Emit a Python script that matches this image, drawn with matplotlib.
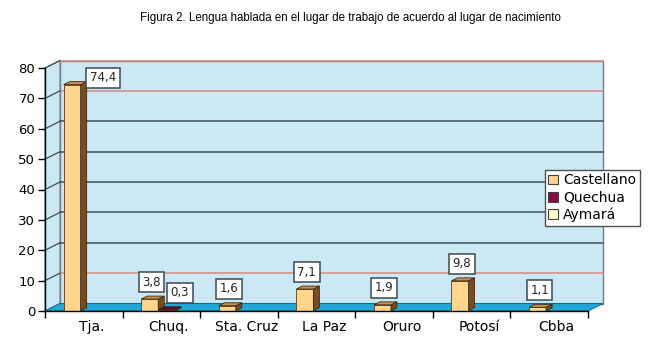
import matplotlib
matplotlib.use("Agg")
import matplotlib.pyplot as plt
from matplotlib.patches import Polygon, Patch
from matplotlib.transforms import IdentityTransform
import numpy as np

# ---- data ----
title = "Figura 2. Lengua hablada en el lugar de trabajo de acuerdo al lugar de nacimiento"
categories = ["Tja.", "Chuq.", "Sta. Cruz", "La Paz", "Oruro", "Potosí", "Cbba"]
series_names = ["Castellano", "Quechua", "Aymará"]
castellano = [74.4, 3.8, 1.6, 7.1, 1.9, 9.8, 1.1]
quechua = [None, 0.3, None, None, None, None, None]
aymara = [None, None, None, None, None, None, None]
yticks = [0, 10, 20, 30, 40, 50, 60, 70, 80]

# ---- style ----
front_cols = ["#ffd68c", "#8c0a46", "#ffffc8"]
side_cols = ["#7a4a22", "#4a0020", "#9a9a70"]
top_cols = ["#c99050", "#6a0830", "#d8d8a0"]
offsets = [-0.16, 0.06, 0.28]
bw = 0.22
WALL = "#cbe8f4"
FLOOR = "#22a8d6"
DX, DY = 15.0, 7.5        # wall depth in pixels
BZ0, BZ1 = 0.05, 0.45     # bar depth (fraction of wall depth)
FONT = "DejaVu Sans"

W, H = 664, 349
fig = plt.figure(figsize=(W / 100, H / 100), dpi=100)
fig.patch.set_facecolor("white")
ax = fig.add_axes([45 / W, 38 / H, 543 / W, 243 / H])
ax.set_xlim(-0.5, len(categories) - 0.5)
ax.set_ylim(0, 80)
ax.patch.set_visible(False)
for s in ["top", "right"]:
    ax.spines[s].set_visible(False)
for s in ["left", "bottom"]:
    ax.spines[s].set_color("black")
    ax.spines[s].set_linewidth(1.0)
    ax.spines[s].set_zorder(10)

xmin, xmax = ax.get_xlim()
ID = IdentityTransform()


def P(x, y, z):
    X, Y = ax.transData.transform((x, y))
    return (X + DX * z, Y + DY * z)


def poly(pts, fc, ec="none", lw=0.8, z=1):
    ax.add_patch(Polygon(pts, closed=True, facecolor=fc, edgecolor=ec,
                         linewidth=lw, transform=ID, clip_on=False, zorder=z))


def line(p, q, c, lw=1.0, z=2):
    ax.add_line(plt.Line2D([p[0], q[0]], [p[1], q[1]], color=c, lw=lw,
                           transform=ID, clip_on=False, zorder=z))


# back wall and side wall
poly([P(xmin, 0, 1), P(xmax, 0, 1), P(xmax, 80, 1), P(xmin, 80, 1)], WALL, "#6e7e86", 1.0, 1)
poly([P(xmin, 0, 0), P(xmin, 0, 1), P(xmin, 80, 1), P(xmin, 80, 0)], WALL, "#6e7e86", 0.8, 1)

# gridlines
for v in yticks[1:]:
    c = "#d88a7a" if v in (10, 70, 80) else "#3e4e5a"
    line(P(xmin, v, 1), P(xmax, v, 1), c, 1.1, 2)
    line(P(xmin, v, 0), P(xmin, v, 1), "#3e4e5a", 0.9, 2)

# floor
poly([P(xmin, 0, 0), P(xmax, 0, 0), P(xmax, 0, 1), P(xmin, 0, 1)], FLOOR, "#1a6a8a", 0.8, 3)

# bars
all_series = [castellano, quechua, aymara]
for si, vals in enumerate(all_series):
    for j, v in enumerate(vals):
        if v is None:
            continue
        x0 = j + offsets[si] - bw / 2
        x1 = x0 + bw
        zb = 5 + si * 0.1
        poly([P(x0, 0, BZ0), P(x1, 0, BZ0), P(x1, v, BZ0), P(x0, v, BZ0)],
             front_cols[si], "#5a3a1a", 0.6, zb)
        poly([P(x1, 0, BZ0), P(x1, 0, BZ1), P(x1, v, BZ1), P(x1, v, BZ0)],
             side_cols[si], "#3a2a10", 0.6, zb)
        poly([P(x0, v, BZ0), P(x1, v, BZ0), P(x1, v, BZ1), P(x0, v, BZ1)],
             top_cols[si], "#3a2a10", 0.6, zb)
        # data label
        cx, ty = P((x0 + x1) / 2, v, BZ0)
        if v > 70:
            ox, oy = 31, 7
        else:
            ox, oy = 2 + 11 * si, 17
        ax.text(cx + ox, ty + oy, f"{v:.1f}".replace(".", ","), transform=ID,
                ha="center", va="center", fontsize=8.5, family=FONT,
                color="#222222", zorder=20,
                bbox=dict(boxstyle="square,pad=0.3", fc="white", ec="#3a4a50", lw=1.1))

# axes ticks
ax.set_yticks(yticks)
ax.set_yticklabels([str(t) for t in yticks], fontsize=9.5, family=FONT)
ax.tick_params(axis="y", length=5, width=1, pad=2, colors="black")
bounds = np.arange(len(categories) + 1) - 0.5
ax.set_xticks(bounds)
ax.set_xticklabels([])
ax.tick_params(axis="x", length=5, width=1, direction="out")

for j, c in enumerate(categories):
    X, Y = P(j, 0, 0.5)
    Y0 = ax.transData.transform((j, 0))[1]
    ax.text(X, Y0 - 16, c, transform=ID, ha="center", va="center",
            fontsize=10, family=FONT, color="black", clip_on=False)

# legend
handles = [Patch(facecolor=front_cols[i], edgecolor="#404040", linewidth=0.8)
           for i in range(3)]
leg = fig.legend(handles, series_names, loc="upper left",
                 bbox_to_anchor=(545 / W, 1 - 170 / H), bbox_transform=fig.transFigure,
                 fancybox=False, edgecolor="#505050", framealpha=1,
                 prop={"family": FONT, "size": 10}, handlelength=0.7,
                 handleheight=0.7, handletextpad=0.35, borderpad=0.25,
                 labelspacing=0.22, borderaxespad=0)
leg.get_frame().set_linewidth(1.0)
leg.set_zorder(30)

# title (fit to the width it has in the reference)
t = fig.text(350 / W, 1 - 18 / H, title, ha="center", va="center", fontsize=9.5,
             family="Liberation Sans", color="black")
renderer = fig.canvas.get_renderer()
wpx = t.get_window_extent(renderer).width
t.set_fontsize(9.5 * 420 / wpx)

fig.savefig("out.png", dpi=100)
